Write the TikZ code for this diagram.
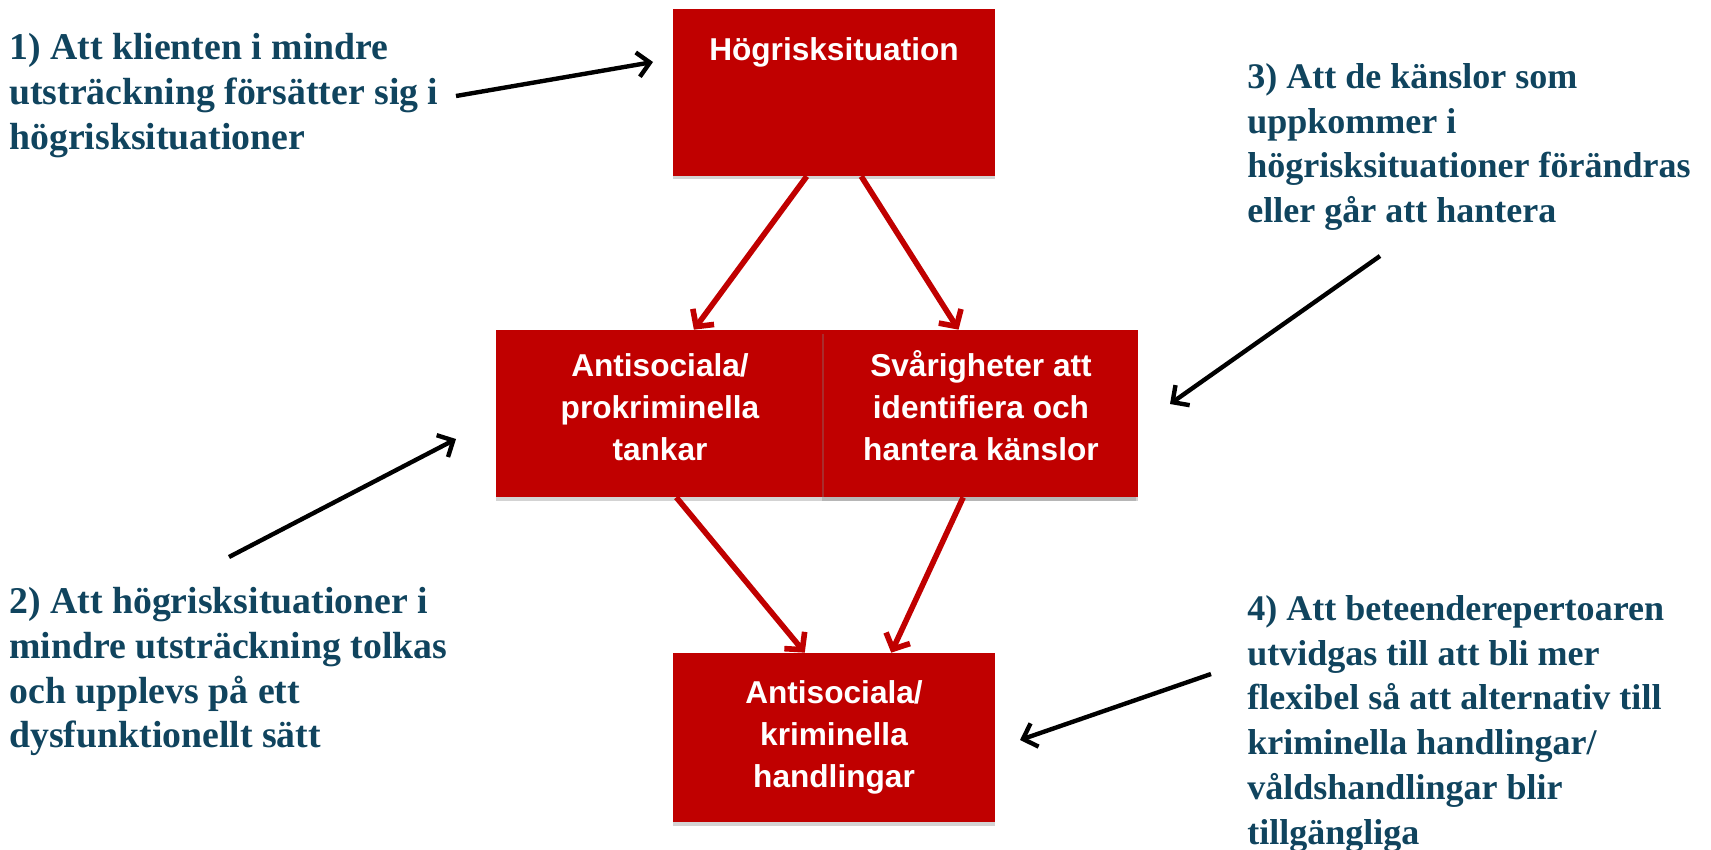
\documentclass[tikz,border=0pt]{standalone}
\usepackage{fontspec}
\setmainfont{Liberation Serif}
\setsansfont{Liberation Sans}
\usetikzlibrary{arrows.meta,shadows}

\definecolor{boxred}{RGB}{192,0,0}
\definecolor{notecol}{RGB}{16,68,94}

\tikzset{
  box/.style={fill=boxred, text=white, align=center,
    font=\sffamily\bfseries\fontsize{18}{24}\selectfont,
    drop shadow={shadow xshift=0pt,shadow yshift=-2pt,opacity=0.35}},
  flow/.style={draw=boxred, line width=3.2pt, -{Straight Barb[length=7pt,width=15pt]}},
  pointer/.style={line width=2.5pt, -{Straight Barb[length=7pt,width=14pt]}},
  note/.style={text=notecol, font=\bfseries\fontsize{20.5}{25.5}\selectfont,
    align=left, anchor=north west, inner sep=0pt},
  bignote/.style={note, font=\bfseries\fontsize{21.5}{25.5}\selectfont}
}

\begin{document}
\begin{tikzpicture}[x=0.02cm,y=-0.02cm]
	\useasboundingbox (0,0) rectangle (1711,849);
	% boxes
	\node[box, minimum width=6.44cm, inner ysep=16pt, text height=13pt, text depth=50pt] (high) at (834,92.5) {Högrisksituation};
	\node[box, minimum width=6.56cm, minimum height=3.34cm, text height=61pt, text depth=7pt] (thoughts) at (660,413.5) {Antisociala/\\prokriminella\\tankar};
	\node[box, minimum width=6.28cm, minimum height=3.34cm, text height=61pt, text depth=7pt,
	      drop shadow={shadow xshift=-1.2pt,shadow yshift=-2pt,opacity=0.35}] (feelings) at (981,413.5) {Svårigheter att\\identifiera och\\hantera känslor};
	\node[box, minimum width=6.44cm, minimum height=3.38cm] (acts) at (834,737.5) {Antisociala/\\kriminella\\handlingar};
	% red flow
	\draw[flow] (high.252) -- (thoughts.68);
	\draw[flow] (high.288) -- (feelings.105);
	\draw[flow] (thoughts.281) -- (acts.109);
	\draw[flow] (feelings.258) -- (acts.56);
	% notes
	\node[bignote] (n1) at (9,33) {1) Att klienten i mindre\\utsträckning försätter sig i\\högrisksituationer};
	\node[bignote] (n2) at (9,587) {2) Att högrisksituationer i\\mindre utsträckning tolkas\\och upplevs på ett\\dysfunktionellt sätt};
	\node[note] (n3) at (1247,63) {3) Att de känslor som\\uppkommer i\\högrisksituationer förändras\\eller går att hantera};
	\node[note] (n4) at (1247,595) {4) Att beteenderepertoaren\\utvidgas till att bli mer\\flexibel så att alternativ till\\kriminella handlingar/\\våldshandlingar blir\\tillgängliga};
	% black pointers
	\coordinate (p1a) at (456,96);   \coordinate (p1b) at (653,62);
	\coordinate (p2a) at (229,557);  \coordinate (p2b) at (456,439);
	\coordinate (p3a) at (1380,256); \coordinate (p3b) at (1170,404);
	\coordinate (p4a) at (1211,674); \coordinate (p4b) at (1020,740);
	\draw[pointer] (p1a) -- (p1b);
	\draw[pointer] (p2a) -- (p2b);
	\draw[pointer] (p3a) -- (p3b);
	\draw[pointer] (p4a) -- (p4b);
\end{tikzpicture}
\end{document}
